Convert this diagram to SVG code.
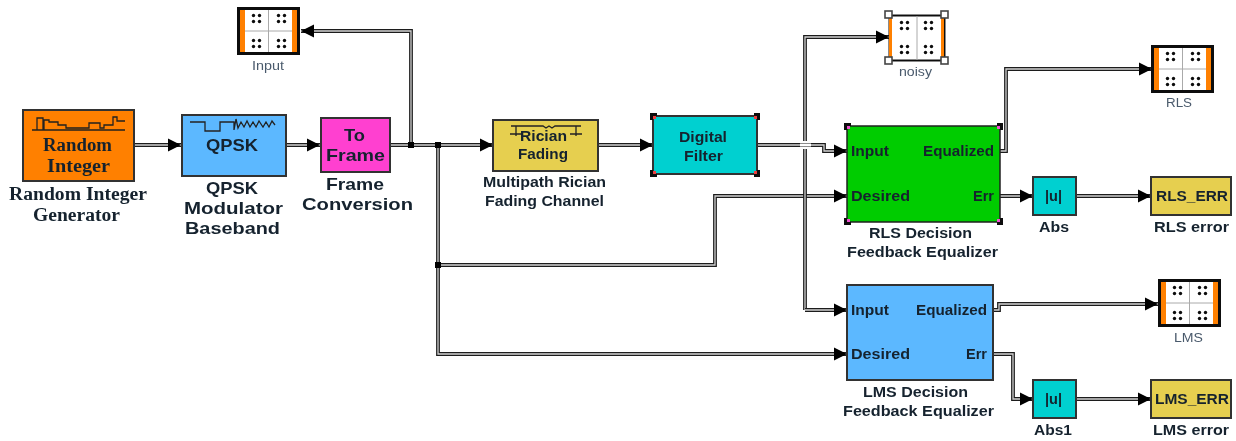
<svg xmlns="http://www.w3.org/2000/svg" xmlns:xlink="http://www.w3.org/1999/xlink" width="1236" height="441" viewBox="0 0 1236 441">
<style>
text{font-family:"Liberation Sans",Arial,sans-serif;font-weight:bold;fill:#14222e}
.serif{font-family:"Liberation Serif","Times New Roman",serif;font-size:18px}
.s18{font-size:17px}.s16{font-size:15.5px}.s14{font-size:14px}
.cap{font-family:"Liberation Sans",Arial,sans-serif;font-weight:normal;font-size:12px;fill:#4a5a6c}
.blk{stroke:#333;stroke-width:2}
.w{fill:none;stroke:#1c1c1c;stroke-width:3.8}
.c{fill:none;stroke:#d2d2d2;stroke-width:1.3}
.d{fill:#111}
.h{fill:#111}
.hp{fill:#f050d0}
.hr{fill:#f04040}
.icon{fill:none;stroke:#222;stroke-width:1.3}
</style>
<defs>
<filter id="soft" x="-2%" y="-2%" width="104%" height="104%"><feGaussianBlur stdDeviation="0.35"/></filter>
<marker id="arrow" markerUnits="userSpaceOnUse" markerWidth="14" markerHeight="14" refX="13" refY="7" orient="auto"><path d="M0,0.5L13,7L0,13.5Z" fill="#000"/></marker>
<g id="dots"><circle class="d" cx="1.5" cy="1.5" r="1.7"/><circle class="d" cx="7.5" cy="1.5" r="1.7"/><circle class="d" cx="1.5" cy="7.5" r="1.7"/><circle class="d" cx="7.5" cy="7.5" r="1.7"/></g>
<g id="scope">
<rect x="1.5" y="1.5" width="60" height="45" fill="#fff" stroke="#111" stroke-width="3"/>
<rect x="3" y="3" width="5" height="42" fill="#ff8000"/><rect x="55" y="3" width="5" height="42" fill="#ff8000"/>
<path d="M31.5 3V45M8 24H55" stroke="#aaa" stroke-width="1" fill="none"/>
<use xlink:href="#dots" href="#dots" x="15" y="7"/><use xlink:href="#dots" href="#dots" x="40" y="7"/>
<use xlink:href="#dots" href="#dots" x="15" y="32"/><use xlink:href="#dots" href="#dots" x="40" y="32"/>
</g>
</defs>
<rect width="1236" height="441" fill="#fff"/>
<g filter="url(#soft)">
<g id="connectors">
<path class="w" d="M134 145H181"/><path class="c" d="M134 145H181" marker-end="url(#arrow)"/>
<path class="w" d="M286 145H320"/><path class="c" d="M286 145H320" marker-end="url(#arrow)"/>
<path class="w" d="M390 145H493"/><path class="c" d="M390 145H493" marker-end="url(#arrow)"/>
<path class="w" d="M411 145V31H301"/><path class="c" d="M411 145V31H301" marker-end="url(#arrow)"/>
<path class="w" d="M598 145H653"/><path class="c" d="M598 145H653" marker-end="url(#arrow)"/>
<path class="w" d="M438 145V354H847"/><path class="c" d="M438 145V354H847" marker-end="url(#arrow)"/>
<path class="w" d="M438 265H715V196H847"/><path class="c" d="M438 265H715V196H847" marker-end="url(#arrow)"/>
<path class="w" d="M805 310V37H889"/><path class="c" d="M805 310V37H889" marker-end="url(#arrow)"/>
<path class="w" d="M805 310H847"/><path class="c" d="M805 310H847" marker-end="url(#arrow)"/>
<path d="M800 141H811V149H800Z" fill="#fff"/>
<path class="w" d="M757 145H824V151H847"/><path class="c" d="M757 145H824V151H847" marker-end="url(#arrow)"/>
<path d="M800 143.500H811V146.500H800Z" fill="#fff"/>
<path class="w" d="M1000 151H1006V69H1152"/><path class="c" d="M1000 151H1006V69H1152" marker-end="url(#arrow)"/>
<path class="w" d="M1000 196H1033"/><path class="c" d="M1000 196H1033" marker-end="url(#arrow)"/>
<path class="w" d="M1076 196H1151"/><path class="c" d="M1076 196H1151" marker-end="url(#arrow)"/>
<path class="w" d="M993 310H999V304H1158"/><path class="c" d="M993 310H999V304H1158" marker-end="url(#arrow)"/>
<path class="w" d="M993 354H1013V399H1033"/><path class="c" d="M993 354H1013V399H1033" marker-end="url(#arrow)"/>
<path class="w" d="M1076 399H1151"/><path class="c" d="M1076 399H1151" marker-end="url(#arrow)"/>
<rect x="408" y="142" width="6" height="6" fill="#000"/>
<rect x="435" y="142" width="6" height="6" fill="#000"/>
<rect x="435" y="262" width="6" height="6" fill="#000"/>
</g>

<g id="random-integer">
<rect class="blk" x="23" y="110" width="111" height="71" fill="#ff8000"/>
<path class="icon" d="M32 130H125M37 130V118H43V130H44V120H49V122H58V125H66V128H73V128H89V123H100V128H104V125H113V117H117V121H125"/>
<text class="serif" x="43" y="151" textLength="69" lengthAdjust="spacingAndGlyphs">Random</text>
<text class="serif" x="47" y="172" textLength="63" lengthAdjust="spacingAndGlyphs">Integer</text>
<text class="serif" x="9" y="200" textLength="138" lengthAdjust="spacingAndGlyphs">Random Integer</text>
<text class="serif" x="33" y="221" textLength="87" lengthAdjust="spacingAndGlyphs">Generator</text>
</g>

<g id="qpsk">
<rect class="blk" x="182" y="115" width="104" height="61" fill="#5cb8ff"/>
<path class="icon" d="M190 122H205V131H220V122H234V130L236 119L238 128L241 122L244 127L247 121L250 127L253 122L256 127L259 121L263 127L266 122L269 127L272 121L275 125"/>
<text class="s18" x="206" y="151" textLength="52" lengthAdjust="spacingAndGlyphs">QPSK</text>
<text class="s18" x="206" y="194" textLength="52" lengthAdjust="spacingAndGlyphs">QPSK</text>
<text class="s18" x="184" y="214" textLength="99" lengthAdjust="spacingAndGlyphs">Modulator</text>
<text class="s18" x="185" y="234" textLength="95" lengthAdjust="spacingAndGlyphs">Baseband</text>
</g>

<g id="to-frame">
<rect class="blk" x="321" y="118" width="69" height="54" fill="#ff40d0"/>
<text class="s18" x="344" y="141" textLength="21" lengthAdjust="spacingAndGlyphs">To</text>
<text class="s18" x="326" y="161" textLength="59" lengthAdjust="spacingAndGlyphs">Frame</text>
<text class="s18" x="326" y="190" textLength="58" lengthAdjust="spacingAndGlyphs">Frame</text>
<text class="s18" x="302" y="210" textLength="111" lengthAdjust="spacingAndGlyphs">Conversion</text>
</g>

<g id="scope-input">
<use xlink:href="#scope" href="#scope" x="237" y="7"/>
<text class="cap" x="252" y="70" textLength="32" lengthAdjust="spacingAndGlyphs">Input</text>
</g>

<g id="rician">
<rect class="blk" x="493" y="120" width="105" height="51" fill="#e6cf50"/>
<path class="icon" d="M511 126H543L546 128L549 126L552 128L555 126H581M516 126V136M510 134H522M576 126V136M570 134H582"/>
<text class="s16" x="520" y="141" textLength="47" lengthAdjust="spacingAndGlyphs">Rician</text>
<text class="s16" x="518" y="159" textLength="50" lengthAdjust="spacingAndGlyphs">Fading</text>
<text class="s14" x="483" y="187" textLength="123" lengthAdjust="spacingAndGlyphs">Multipath Rician</text>
<text class="s14" x="485" y="206" textLength="119" lengthAdjust="spacingAndGlyphs">Fading Channel</text>
</g>

<g id="digital-filter">
<rect class="blk" x="653" y="116" width="104" height="58" fill="#00d0d0"/>
<text class="s16" x="679" y="142" textLength="48" lengthAdjust="spacingAndGlyphs">Digital</text>
<text class="s16" x="684" y="161" textLength="39" lengthAdjust="spacingAndGlyphs">Filter</text>
<path class="h" d="M650 113H657V116H653V120H650ZM754 113H760V120H757V116H754ZM650 170H653V174H657V177H650ZM757 170H760V177H754V174H757Z"/>
<rect class="hr" x="653" y="116" width="3" height="3"/><rect class="hr" x="754" y="116" width="3" height="3"/><rect class="hr" x="653" y="171" width="3" height="3"/><rect class="hr" x="754" y="171" width="3" height="3"/>
</g>

<g id="scope-noisy">
<rect x="889.5" y="15.5" width="55" height="45" fill="#fff" stroke="#111" stroke-width="2"/>
<rect x="889" y="17" width="3" height="42" fill="#ff8000"/><rect x="941" y="17" width="3" height="42" fill="#ff8000"/>
<path d="M917 16V60" stroke="#aaa" stroke-width="1"/>
<use xlink:href="#dots" href="#dots" x="900" y="21"/><use xlink:href="#dots" href="#dots" x="924" y="21"/>
<use xlink:href="#dots" href="#dots" x="900" y="45"/><use xlink:href="#dots" href="#dots" x="924" y="45"/>
<g fill="#fff" stroke="#444" stroke-width="1.6"><rect x="885" y="11" width="7" height="7"/><rect x="941" y="11" width="7" height="7"/><rect x="885" y="57" width="7" height="7"/><rect x="941" y="57" width="7" height="7"/></g>
<text class="cap" x="899" y="76" textLength="33" lengthAdjust="spacingAndGlyphs">noisy</text>
</g>

<g id="rls-equalizer">
<rect x="847" y="126" width="153" height="96" fill="#00cc00" stroke="#222" stroke-width="1.5"/>
<text class="s14" x="851" y="156" textLength="38" lengthAdjust="spacingAndGlyphs">Input</text>
<text class="s14" x="923" y="156" textLength="71" lengthAdjust="spacingAndGlyphs">Equalized</text>
<text class="s14" x="851" y="201" textLength="59" lengthAdjust="spacingAndGlyphs">Desired</text>
<text class="s14" x="973" y="201" textLength="21" lengthAdjust="spacingAndGlyphs">Err</text>
<text class="s14" x="869" y="238" textLength="103" lengthAdjust="spacingAndGlyphs">RLS Decision</text>
<text class="s14" x="847" y="257" textLength="151" lengthAdjust="spacingAndGlyphs">Feedback Equalizer</text>
<path class="h" d="M844 123H851V126H847V130H844ZM997 123H1003V130H1000V126H997ZM844 218H847V222H851V225H844ZM1000 218H1003V225H997V222H1000Z"/>
<rect class="hp" x="847" y="126" width="3" height="3"/><rect class="hp" x="997" y="126" width="3" height="3"/><rect class="hp" x="847" y="219" width="3" height="3"/><rect class="hp" x="997" y="219" width="3" height="3"/>
</g>

<g id="scope-rls">
<use xlink:href="#scope" href="#scope" x="1151" y="45"/>
<text class="cap" x="1166" y="107" textLength="26" lengthAdjust="spacingAndGlyphs">RLS</text>
</g>

<g id="abs">
<rect class="blk" x="1033" y="177" width="43" height="38" fill="#00d0d0"/>
<text class="s14" x="1045" y="201" textLength="17" lengthAdjust="spacingAndGlyphs">|u|</text>
<text class="s14" x="1039" y="232" textLength="30" lengthAdjust="spacingAndGlyphs">Abs</text>
</g>

<g id="rls-error">
<path d="M1231 177H1151V215H1231Z" fill="#e6cf50" stroke="#333" stroke-width="2"/>
<text class="s14" x="1156" y="201" textLength="72" lengthAdjust="spacingAndGlyphs">RLS_ERR</text>
<text class="s14" x="1154" y="232" textLength="75" lengthAdjust="spacingAndGlyphs">RLS error</text>
</g>

<g id="lms-equalizer">
<rect class="blk" x="847" y="285" width="146" height="95" fill="#5cb8ff"/>
<text class="s14" x="851" y="315" textLength="38" lengthAdjust="spacingAndGlyphs">Input</text>
<text class="s14" x="916" y="315" textLength="71" lengthAdjust="spacingAndGlyphs">Equalized</text>
<text class="s14" x="851" y="359" textLength="59" lengthAdjust="spacingAndGlyphs">Desired</text>
<text class="s14" x="966" y="359" textLength="21" lengthAdjust="spacingAndGlyphs">Err</text>
<text class="s14" x="863" y="397" textLength="105" lengthAdjust="spacingAndGlyphs">LMS Decision</text>
<text class="s14" x="843" y="416" textLength="151" lengthAdjust="spacingAndGlyphs">Feedback Equalizer</text>
</g>

<g id="scope-lms">
<use xlink:href="#scope" href="#scope" x="1158" y="279"/>
<text class="cap" x="1174" y="342" textLength="29" lengthAdjust="spacingAndGlyphs">LMS</text>
</g>

<g id="abs1">
<rect class="blk" x="1033" y="380" width="43" height="38" fill="#00d0d0"/>
<text class="s14" x="1045" y="404" textLength="17" lengthAdjust="spacingAndGlyphs">|u|</text>
<text class="s14" x="1034" y="435" textLength="38" lengthAdjust="spacingAndGlyphs">Abs1</text>
</g>

<g id="lms-error">
<path d="M1231 380H1151V418H1231Z" fill="#e6cf50" stroke="#333" stroke-width="2"/>
<text class="s14" x="1155" y="404" textLength="74" lengthAdjust="spacingAndGlyphs">LMS_ERR</text>
<text class="s14" x="1153" y="435" textLength="76" lengthAdjust="spacingAndGlyphs">LMS error</text>
</g>
</g>
</svg>
